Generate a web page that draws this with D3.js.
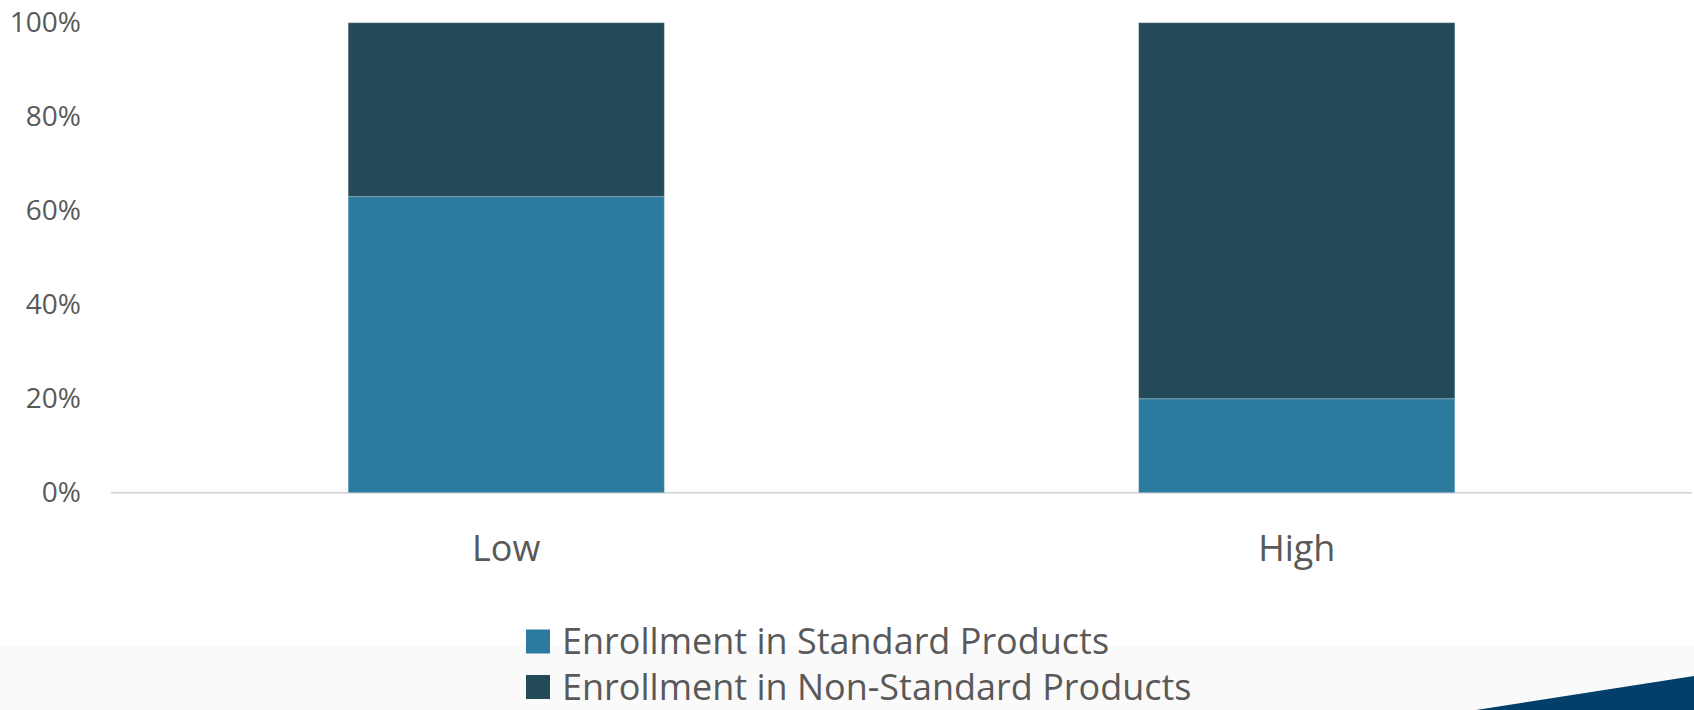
<!DOCTYPE html>
<html>
<head>
<meta charset="utf-8">
<script src="https://cdn.jsdelivr.net/npm/d3@7"></script>
<style>
  html, body { margin: 0; padding: 0; background: #ffffff; }
  svg { display: block; }
  text { font-family: "Open Sans", "Noto Sans", sans-serif; fill: #595959; }
</style>
</head>
<body>
<svg id="chart" width="1694" height="710"></svg>
<script>
// ---- data ----
const categories = ["Low", "High"];
const seriesNames = ["Enrollment in Standard Products", "Enrollment in Non-Standard Products"];
const standardValues = [0.63, 0.20];
const nonStandardValues = [0.37, 0.80];
const yTickValues = [0, 0.2, 0.4, 0.6, 0.8, 1.0];
const seriesColors = ["#2C7B9F", "#234A59"];

// ---- layout ----
const W = 1694, H = 710;
const plot = { left: 111, right: 1692, top: 22.7, bottom: 492.7 };

const svg = d3.select("#chart");

// bottom decorative band
svg.append("rect").attr("x", 0).attr("y", 646).attr("width", W).attr("height", H - 646)
  .attr("fill", "#fafafa");
svg.append("polygon")
  .attr("points", [[1476, 710], [1694, 676], [1694, 710]].map(p => p.join(",")).join(" "))
  .attr("fill", "#023F6B");

const x = d3.scaleBand().domain(categories)
  .range([plot.left, plot.right]).paddingInner(0.6).paddingOuter(0.3);
const y = d3.scaleLinear().domain([0, 1]).range([plot.bottom, plot.top]);

// stacked data
const rows = categories.map((c, i) => ({ cat: c, s0: standardValues[i], s1: nonStandardValues[i] }));
const stack = d3.stack().keys(["s0", "s1"]);
const stacked = stack(rows);

// baseline
svg.append("line")
  .attr("x1", plot.left).attr("x2", plot.right)
  .attr("y1", y(0)).attr("y2", y(0))
  .attr("stroke", "#d9d9d9").attr("stroke-width", 2);

// bars
const g = svg.append("g");
stacked.forEach((layer, li) => {
  g.selectAll(null).data(layer).enter().append("rect")
    .attr("x", d => x(d.data.cat))
    .attr("width", x.bandwidth())
    .attr("y", d => y(d[1]))
    .attr("height", d => y(d[0]) - y(d[1]))
    .attr("fill", seriesColors[li])
    .attr("stroke", "rgba(255,255,255,0.25)")
    .attr("stroke-width", 1);
});

// y axis labels
const yAxis = d3.axisLeft(y).tickValues(yTickValues).tickFormat(d3.format(".0%")).tickSize(0).tickPadding(0);
const ya = svg.append("g").attr("transform", "translate(81,0)").call(yAxis);
ya.select(".domain").remove();
ya.selectAll("text").attr("font-size", 28).attr("fill", "#595959")
  .style("font-family", '"Open Sans", sans-serif');

// x axis labels
const xAxis = d3.axisBottom(x).tickSize(0).tickPadding(0);
const xa = svg.append("g").call(xAxis);
xa.select(".domain").remove();
xa.selectAll("text").attr("y", 560.7).attr("dy", null).attr("font-size", 36).attr("fill", "#595959")
  .style("font-family", '"Open Sans", sans-serif');

// legend
const legend = svg.append("g");
const legendBaselines = [654, 699.5];
seriesNames.forEach((name, i) => {
  legend.append("rect")
    .attr("x", 526).attr("y", legendBaselines[i] - 24.5)
    .attr("width", 24).attr("height", 24)
    .attr("fill", seriesColors[i]);
  legend.append("text")
    .attr("x", 562).attr("y", legendBaselines[i])
    .attr("font-size", 36)
    .text(name);
});
</script>
</body>
</html>
